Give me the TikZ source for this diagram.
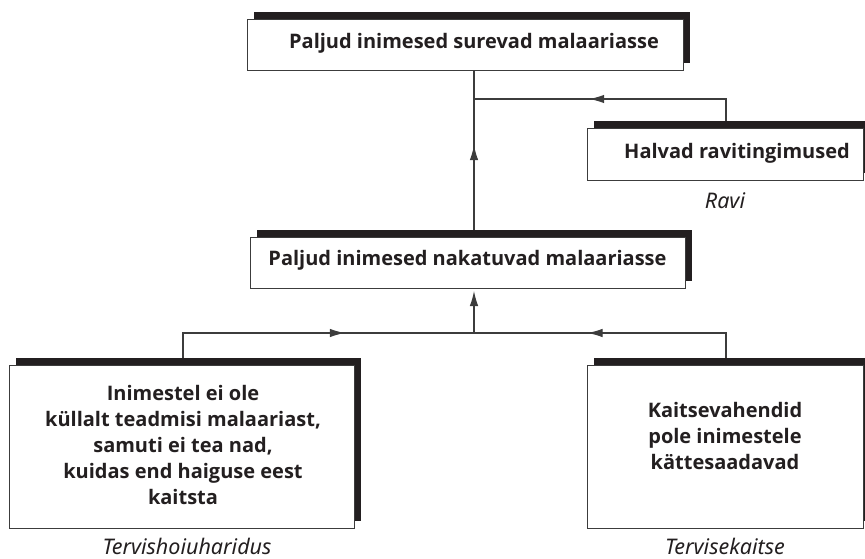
\documentclass[tikz,border=0pt]{standalone}
\usepackage{fontspec}
\setmainfont{Open Sans}
\newfontfamily\labfont{Noto Sans}
\usetikzlibrary{arrows.meta,shadows,decorations.markings,calc}
\definecolor{ink}{HTML}{231F20}
\definecolor{edge}{HTML}{3C3C3C}
\begin{document}
\begin{tikzpicture}[x=1pt,y=-1pt,
  box/.style={draw=edge, line width=0.9pt, fill=white, inner sep=0pt,
    general shadow={fill=ink, shadow xshift=7pt, shadow yshift=7pt}},
  txt/.style={align=center, font=\fontsize{20}{26}\selectfont\bfseries, text=ink, inner sep=0pt},
  lab/.style={font=\labfont\itshape\fontsize{21.5}{24}\selectfont, text=ink, anchor=base, inner sep=0pt},
  conn/.style={draw=edge, line width=1.1pt},
  midarrow/.style={postaction={decorate}, decoration={markings,
    mark=at position #1 with {\arrow{Latex[length=15pt,width=8.5pt]}}}}
]
\useasboundingbox (0,0) rectangle (865,559);

% junction coordinates
\coordinate (j1) at (474,99);
\coordinate (j2) at (474,333);

% connectors (behind boxes)
\draw[conn, midarrow=0.55] (474,237) -- (474,70);
\draw[conn, midarrow=0.59] (726,128) |- (j1);
\draw[conn, midarrow=0.60] (183,365) |- (j2);
\draw[conn, midarrow=0.60] (726,365) |- (j2);
\draw[conn, -{Latex[length=15pt,width=8.5pt]}, shorten >=3pt] (j2) -- (474,288);

% boxes
\node[box, minimum width=436pt, minimum height=51pt] (top) at (465,44.5) {};
\node[box, minimum width=276pt, minimum height=52pt] (hal) at (725,154) {};
\node[box, minimum width=435pt, minimum height=51pt] (mid) at (467.5,262.5) {};
\node[box, minimum width=345pt, minimum height=163pt] (lft) at (181.5,446.5) {};
\node[box, minimum width=276pt, minimum height=163pt] (rgt) at (725,446.5) {};

% texts
\node[txt] (toptxt) at (474,43) {Paljud inimesed surevad malaariasse};
\node[txt] (haltxt) at (737,153) {Halvad ravitingimused};
\node[txt] (midtxt) at (467.5,260) {Paljud inimesed nakatuvad malaariasse};
\node[txt] (lfttxt) at (183,445) {Inimestel ei ole\\ küllalt teadmisi malaariast,\\ samuti ei tea nad,\\ kuidas end haiguse eest\\ kaitsta};
\node[txt] (rgttxt) at (725,436) {Kaitsevahendid\\ pole inimestele\\ kättesaadavad};

% labels
\node[lab] (ravi) at (725,208) {Ravi};
\node[lab] (lab1) at (187,554) {Tervishoiuharidus};
\node[lab] (lab2) at (725,554) {Tervisekaitse};
\end{tikzpicture}
\end{document}
